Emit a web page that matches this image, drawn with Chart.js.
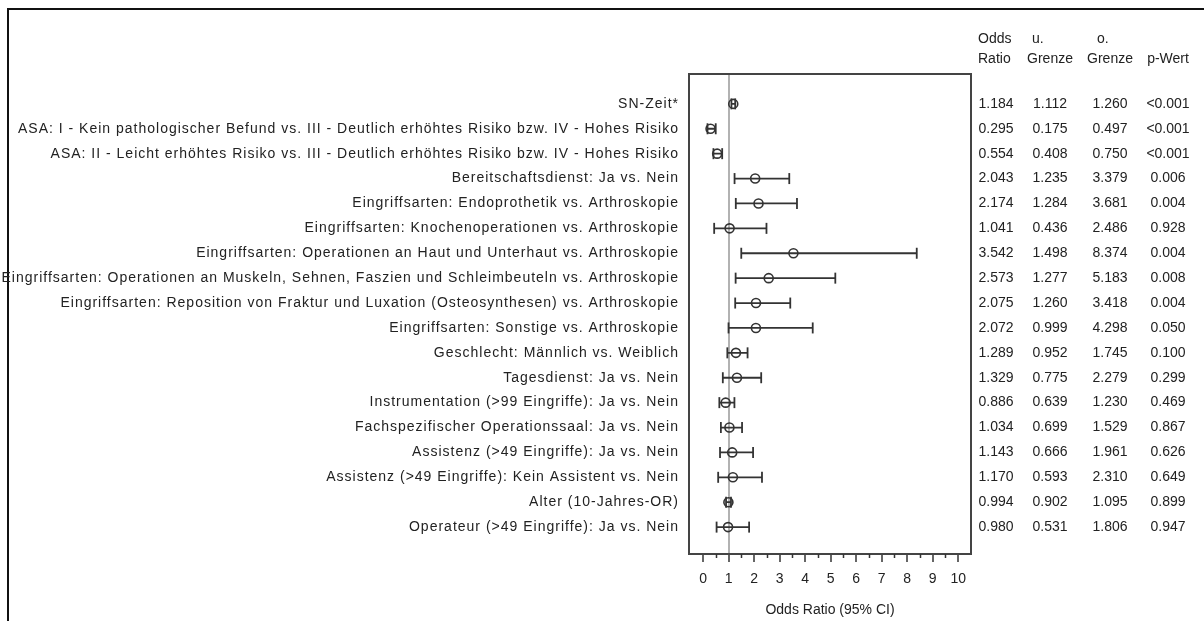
<!DOCTYPE html>
<html><head><meta charset="utf-8">
<script src="https://cdn.jsdelivr.net/npm/chart.js@4.4.1/dist/chart.umd.min.js"></script>
<style>html,body{margin:0;padding:0;background:#fff;overflow:hidden}</style>
</head><body><canvas id="c" width="1204" height="621"></canvas>
<script>
const labels = [
  "SN-Zeit*",
  "ASA: I - Kein pathologischer Befund vs. III - Deutlich erhöhtes Risiko bzw. IV - Hohes Risiko",
  "ASA: II - Leicht erhöhtes Risiko vs. III - Deutlich erhöhtes Risiko bzw. IV - Hohes Risiko",
  "Bereitschaftsdienst: Ja vs. Nein",
  "Eingriffsarten: Endoprothetik vs. Arthroskopie",
  "Eingriffsarten: Knochenoperationen vs. Arthroskopie",
  "Eingriffsarten: Operationen an Haut und Unterhaut vs. Arthroskopie",
  "Eingriffsarten: Operationen an Muskeln, Sehnen, Faszien und Schleimbeuteln vs. Arthroskopie",
  "Eingriffsarten: Reposition von Fraktur und Luxation (Osteosynthesen) vs. Arthroskopie",
  "Eingriffsarten: Sonstige vs. Arthroskopie",
  "Geschlecht: Männlich vs. Weiblich",
  "Tagesdienst: Ja vs. Nein",
  "Instrumentation (>99 Eingriffe): Ja vs. Nein",
  "Fachspezifischer Operationssaal: Ja vs. Nein",
  "Assistenz (>49 Eingriffe): Ja vs. Nein",
  "Assistenz (>49 Eingriffe): Kein Assistent vs. Nein",
  "Alter (10-Jahres-OR)",
  "Operateur (>49 Eingriffe): Ja vs. Nein"
];
const oddsRatio = [1.184,0.295,0.554,2.043,2.174,1.041,3.542,2.573,2.075,2.072,1.289,1.329,0.886,1.034,1.143,1.170,0.994,0.980];
const lowerCI   = [1.112,0.175,0.408,1.235,1.284,0.436,1.498,1.277,1.260,0.999,0.952,0.775,0.639,0.699,0.666,0.593,0.902,0.531];
const upperCI   = [1.260,0.497,0.750,3.379,3.681,2.486,8.374,5.183,3.418,4.298,1.745,2.279,1.230,1.529,1.961,2.310,1.095,1.806];
const pValues   = ["<0.001","<0.001","<0.001","0.006","0.004","0.928","0.004","0.008","0.004","0.050","0.100","0.299","0.469","0.867","0.626","0.649","0.899","0.947"];
const xTicks = [0,1,2,3,4,5,6,7,8,9,10];
const xMinorTicks = [0.5,1.5,2.5,3.5,4.5,5.5,6.5,7.5,8.5,9.5];
const referenceValue = 1;
const headerTop = ["Odds","u.","o.",""];
const headerBottom = ["Ratio","Grenze","Grenze","p-Wert"];
const axisTitle = "Odds Ratio (95% CI)";

const FONT_FAMILY = "'Liberation Sans', Arial, sans-serif";
const FONT_SIZE = 14;
const TEXT = '#222';
const MARK = '#333';

const ciPoints = [];
labels.forEach((_, i) => {
  ciPoints.push({x: lowerCI[i], y: i}, {x: upperCI[i], y: i});
  if (i < labels.length - 1) ciPoints.push({x: null, y: null});
});
const orPoints = labels.map((_, i) => ({x: oddsRatio[i], y: i}));

const framePlugin = {
  id: 'frame',
  afterLayout(chart) {
    const ys = chart.scales.y;
    if (!ys._spacedLabels) {
      const orig = ys.drawLabels.bind(ys);
      ys.drawLabels = function (area) {
        const ctx = chart.ctx;
        ctx.save();
        ctx.letterSpacing = '1px';
        orig(area);
        ctx.restore();
      };
      ys._spacedLabels = true;
    }
  },
  beforeDraw(chart) {
    const ctx = chart.ctx;
    ctx.save();
    ctx.fillStyle = '#fff';
    ctx.fillRect(0, 0, chart.width, chart.height);
    ctx.strokeStyle = '#111';
    ctx.lineWidth = 2;
    ctx.beginPath();
    ctx.moveTo(8, chart.height); ctx.lineTo(8, 9); ctx.lineTo(chart.width, 9);
    ctx.stroke();
    ctx.restore();
  },
  afterDraw(chart) {
    const ctx = chart.ctx;
    const a = chart.chartArea;
    const xs = chart.scales.x, ys = chart.scales.y;
    ctx.save();
    ctx.letterSpacing = '0px';
    // plot box
    ctx.strokeStyle = '#444';
    ctx.lineWidth = 2;
    ctx.strokeRect(a.left, a.top, a.right - a.left, a.bottom - a.top);
    // minor ticks
    ctx.lineWidth = 1.5;
    ctx.strokeStyle = MARK;
    ctx.beginPath();
    xMinorTicks.forEach(v => {
      const px = Math.round(xs.getPixelForValue(v)) + 0.5;
      ctx.moveTo(px, a.bottom); ctx.lineTo(px, a.bottom + 4);
    });
    ctx.stroke();
    // table
    ctx.fillStyle = TEXT;
    ctx.font = FONT_SIZE + 'px ' + FONT_FAMILY;
    ctx.textBaseline = 'middle';
    const colX = [996, 1050, 1110, 1168];
    ctx.textAlign = 'center';
    labels.forEach((_, i) => {
      const y = ys.getPixelForValue(i);
      ctx.fillText(oddsRatio[i].toFixed(3), colX[0], y);
      ctx.fillText(lowerCI[i].toFixed(3), colX[1], y);
      ctx.fillText(upperCI[i].toFixed(3), colX[2], y);
      ctx.fillText(pValues[i], colX[3], y);
    });
    // headers
    ctx.textAlign = 'left';
    ctx.fillText(headerTop[0], 978, 39);
    ctx.fillText(headerBottom[0], 978, 59);
    ctx.fillText(headerTop[1], 1032, 39);
    ctx.fillText(headerTop[2], 1097, 39);
    ctx.textAlign = 'center';
    ctx.fillText(headerBottom[1], 1050, 59);
    ctx.fillText(headerBottom[2], 1110, 59);
    ctx.fillText(headerBottom[3], 1168, 59);
    ctx.restore();
  }
};

new Chart(document.getElementById('c'), {
  type: 'scatter',
  data: {
    datasets: [
      {
        data: orPoints,
        showLine: false,
        pointStyle: 'circle',
        pointRadius: 4.5,
        pointHoverRadius: 4.5,
        pointBorderWidth: 1.6,
        pointBorderColor: MARK,
        pointBackgroundColor: 'rgba(0,0,0,0)'
      },
      {
        data: ciPoints,
        showLine: true,
        spanGaps: false,
        borderColor: MARK,
        borderWidth: 1.8,
        pointStyle: 'line',
        rotation: 90,
        pointRadius: 5.5,
        pointHoverRadius: 5.5,
        pointBorderWidth: 1.8,
        pointBorderColor: MARK
      }
    ]
  },
  options: {
    responsive: false,
    animation: false,
    devicePixelRatio: 1,
    layout: { padding: { top: 74, right: 233, left: 0, bottom: 0 } },
    plugins: { legend: { display: false }, tooltip: { enabled: false } },
    scales: {
      x: {
        type: 'linear',
        min: -0.55,
        max: 10.5,
        afterBuildTicks: s => { s.ticks = xTicks.map(v => ({value: v})); },
        afterFit: s => { s.height = 67; },
        border: { display: false },
        grid: {
          color: c => (c.tick && c.tick.value === referenceValue) ? '#b2b2b2' : 'rgba(0,0,0,0)',
          lineWidth: 2,
          drawTicks: true,
          tickLength: 8,
          tickColor: MARK,
          tickWidth: 1.5
        },
        ticks: { color: TEXT, font: { family: FONT_FAMILY, size: FONT_SIZE }, padding: 9, maxRotation: 0, autoSkip: false },
        title: { display: true, text: axisTitle, color: TEXT, font: { family: FONT_FAMILY, size: FONT_SIZE }, padding: { top: 0, bottom: 2 } }
      },
      y: {
        type: 'linear',
        reverse: true,
        min: -1.2,
        max: 18.08,
        afterBuildTicks: s => { s.ticks = labels.map((_, i) => ({value: i})); },
        afterFit: s => { s.width = 689; },
        border: { display: false },
        grid: { display: false, drawTicks: false },
        ticks: { color: TEXT, font: { family: FONT_FAMILY, size: FONT_SIZE }, padding: 10, autoSkip: false, callback: v => labels[v] }
      }
    }
  },
  plugins: [framePlugin]
});
</script>
</body></html>
